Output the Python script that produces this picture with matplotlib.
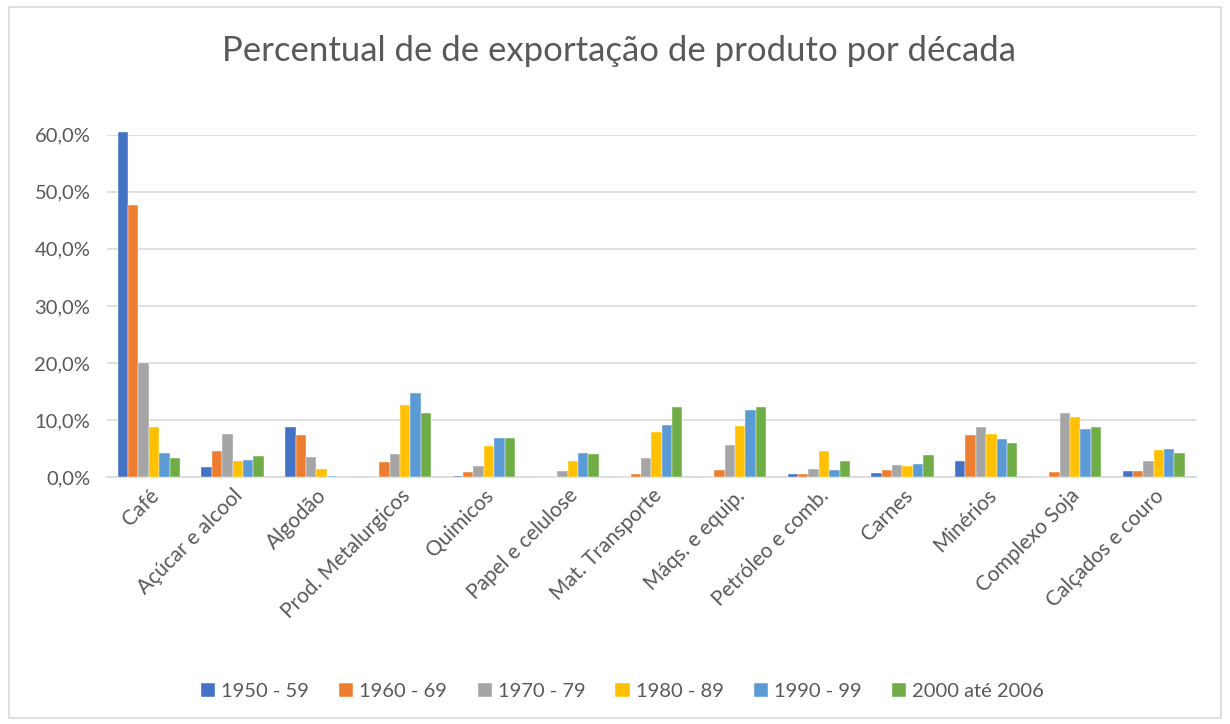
import matplotlib.pyplot as plt
import matplotlib.patches as patches
import numpy as np
from matplotlib.ticker import FuncFormatter

plt.rcParams['font.family'] = ['Lato', 'DejaVu Sans']

produtos = ["Café", "Açúcar e alcool", "Algodão", "Prod. Metalurgicos", "Quimicos",
            "Papel e celulose", "Mat. Transporte", "Máqs. e equip.", "Petróleo e comb.",
            "Carnes", "Minérios", "Complexo Soja", "Calçados e couro"]
decadas = ["1950 - 59", "1960 - 69", "1970 - 79", "1980 - 89", "1990 - 99", "2000 até 2006"]
cores = ["#4472C4", "#ED7D31", "#A5A5A5", "#FFC000", "#5B9BD5", "#70AD47"]

# percentuais (%) por década
d1950 = [60.5, 1.7, 8.8, 0.0, 0.2, 0.0, 0.0, 0.0, 0.5, 0.8, 2.9, 0.1, 1.0]
d1960 = [47.7, 4.5, 7.3, 2.7, 0.9, 0.0, 0.5, 1.2, 0.5, 1.3, 7.4, 0.9, 1.0]
d1970 = [20.0, 7.5, 3.5, 4.0, 1.9, 1.0, 3.3, 5.6, 1.5, 2.1, 8.8, 11.2, 2.9]
d1980 = [8.8, 2.8, 1.4, 12.6, 5.4, 2.9, 7.9, 9.0, 4.5, 1.9, 7.6, 10.5, 4.7]
d1990 = [4.3, 3.0, 0.2, 14.7, 6.8, 4.3, 9.1, 11.7, 1.2, 2.3, 6.7, 8.5, 4.9]
d2000 = [3.3, 3.7, 0.1, 11.2, 6.8, 4.0, 12.2, 12.2, 2.9, 3.9, 6.0, 8.8, 4.2]
series = [d1950, d1960, d1970, d1980, d1990, d2000]

fig = plt.figure(figsize=(12.3, 7.24), dpi=100)
ax = fig.add_axes([0.087, 0.341, 0.885, 0.473])

x = np.arange(len(produtos))
w = 0.124
for i, (vals, cor, lab) in enumerate(zip(series, cores, decadas)):
    ax.bar(x + (i - 2.5) * w, np.array(vals) / 100, w, color=cor, label=lab,
           edgecolor='white', linewidth=0.3, clip_on=False, zorder=3)

ax.set_xlim(-0.5, len(produtos) - 0.5)
ax.set_ylim(0, 0.6)
ax.set_yticks(np.arange(0, 0.61, 0.1))
ax.yaxis.set_major_formatter(FuncFormatter(lambda v, p: f"{v*100:.1f}%".replace('.', ',')))
ax.grid(axis='y', color='#d9d9d9', lw=1.2, zorder=0)
ax.set_axisbelow(True)
for s in ['top', 'right', 'left']:
    ax.spines[s].set_visible(False)
ax.spines['bottom'].set_color('#d9d9d9')
ax.spines['bottom'].set_linewidth(1.2)
ax.tick_params(axis='both', length=0, colors='#595959')
ax.tick_params(axis='y', pad=12, labelsize=14.5)
ax.tick_params(axis='x', pad=6, labelsize=15)
ax.set_xticks(x)
ax.set_xticklabels(produtos, rotation=45, ha='right', rotation_mode='anchor')

fig.text(0.503, 0.93, "Percentual de de exportação de produto por década",
         ha='center', va='center', fontsize=25, color='#595959')

fig.legend(loc='center', bbox_to_anchor=(0.506, 0.045), ncol=6, frameon=False,
           fontsize=14.5, handlelength=0.7, handleheight=0.7, handletextpad=0.3,
           columnspacing=1.5, labelcolor='#595959')

fig.patches.append(patches.Rectangle((0.007, 0.008), 0.986, 0.982, transform=fig.transFigure,
                                     fill=False, edgecolor='#d9d9d9', lw=1.2))

fig.savefig("out.png", dpi=100)
